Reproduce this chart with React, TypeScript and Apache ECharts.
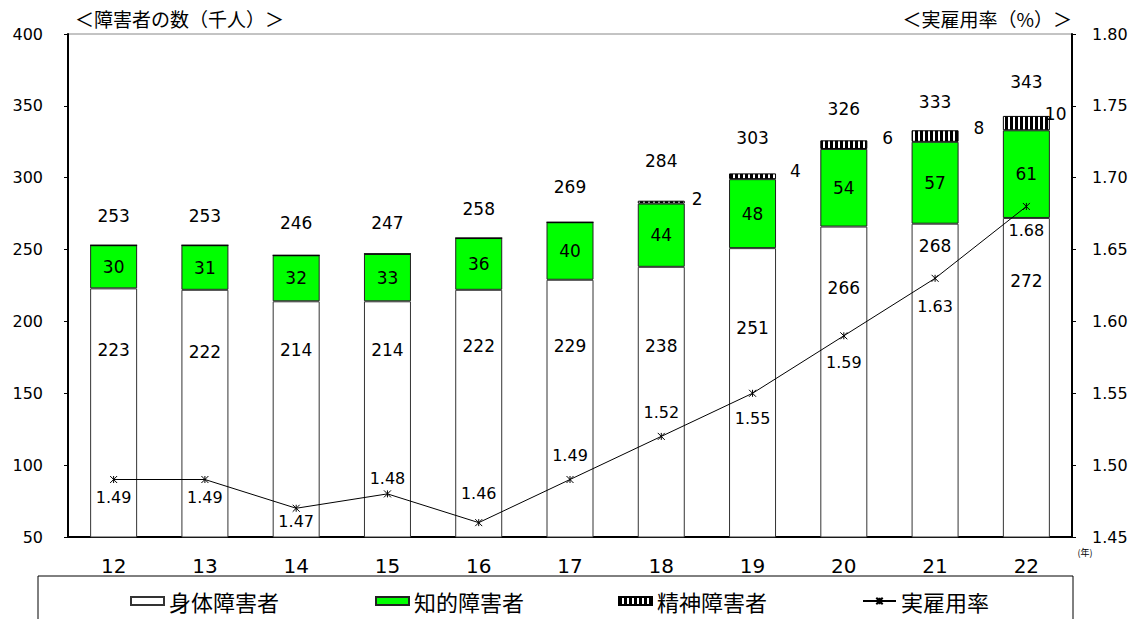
import React, { useEffect, useRef } from "react";
import * as echarts from "echarts";

const years = ["12", "13", "14", "15", "16", "17", "18", "19", "20", "21", "22"];
const physical = [223, 222, 214, 214, 222, 229, 238, 251, 266, 268, 272];
const intellectual = [30, 31, 32, 33, 36, 40, 44, 48, 54, 57, 61];
const mental = [0, 0, 0, 0, 0, 0, 2, 4, 6, 8, 10];
const totals = [253, 253, 246, 247, 258, 269, 284, 303, 326, 333, 343];
const rates = [1.49, 1.49, 1.47, 1.48, 1.46, 1.49, 1.52, 1.55, 1.59, 1.63, 1.68];

// label placement tweaks (pixels), not data
const physicalLabelDy = [62, 62, 49, 49, 56, 66, 79, 80, 61, 22, 63];
const totalLabelDy = [-29, -29, -32, -31, -29, -35, -40, -35, -31, -28, -34];
const rateLabelDy = [18, 18, 13, -15, -29, -24, -24, 25, 27, 28, 24];
const mentalLabelDx = [0, 0, 0, 0, 0, 0, 7, 14, 15, 15, -5];

const NUM_FONT = "DejaVu Sans";
const JP_FONT = "'Noto Sans CJK JP', 'Noto Sans', sans-serif";

function makeStripe(): HTMLCanvasElement {
  const c = document.createElement("canvas");
  c.width = 5;
  c.height = 10;
  const ctx = c.getContext("2d")!;
  ctx.fillStyle = "#ffffff";
  ctx.fillRect(0, 0, 5, 10);
  ctx.fillStyle = "#000000";
  ctx.fillRect(0, 0, 3, 10);
  return c;
}

export default function App() {
  const ref = useRef<HTMLDivElement>(null);
  useEffect(() => {
    document.body.style.margin = "0";
    const chart = echarts.init(ref.current!, undefined, { renderer: "svg" });
    const stripe = { image: makeStripe(), repeat: "repeat" } as any;
    const labelBase = {
      fontFamily: NUM_FONT,
      fontSize: 17,
      color: "#000",
      textBorderWidth: 0,
      textBorderColor: "transparent",
    };

    const option: any = {
      animation: false,
      backgroundColor: "#fff",
      grid: {
        left: 68,
        right: 65,
        top: 34,
        bottom: 82,
        show: true,
        borderColor: "#888",
        borderWidth: 1,
      },
      xAxis: {
        type: "category",
        data: years,
        axisLine: { lineStyle: { color: "#000", width: 2 } },
        axisTick: { inside: true, length: 5, alignWithLabel: false, lineStyle: { color: "#000" } },
        axisLabel: { margin: 19, fontSize: 20, fontFamily: NUM_FONT, color: "#000" },
      },
      yAxis: [
        {
          type: "value",
          min: 50,
          max: 400,
          interval: 50,
          splitLine: { show: false },
          axisLine: { show: true, lineStyle: { color: "#000", width: 2 } },
          axisTick: { show: true, length: 4, lineStyle: { color: "#000" } },
          axisLabel: { margin: 25, fontSize: 16, fontFamily: NUM_FONT, color: "#000" },
        },
        {
          type: "value",
          min: 1.45,
          max: 1.8,
          interval: 0.05,
          splitLine: { show: false },
          axisLine: { show: true, lineStyle: { color: "#000", width: 2 } },
          axisTick: { show: true, length: 4, lineStyle: { color: "#000" } },
          axisLabel: {
            margin: 20,
            fontSize: 16,
            fontFamily: NUM_FONT,
            color: "#000",
            formatter: (v: number) => v.toFixed(2),
          },
        },
      ],
      legend: [
        { name: "身体障害者", left: 130, icon: "rect" },
        { name: "知的障害者", left: 375, icon: "rect" },
        { name: "精神障害者", left: 618, icon: "rect" },
        { name: "実雇用率", left: 862, icon: undefined },
      ].map((l) => ({
        data: [l.name],
        left: l.left,
        top: 590,
        padding: 0,
        itemWidth: 33,
        itemHeight: 8,
        ...(l.icon ? { icon: l.icon } : {}),
        textStyle: { fontSize: 22, fontFamily: JP_FONT, color: "#000" },
      })),
      graphic: [
        {
          type: "rect",
          shape: { x: 38, y: 576, width: 1035, height: 60 },
          style: { fill: "none", stroke: "#000", lineWidth: 1 },
          silent: true,
        },
        {
          type: "text",
          x: 75,
          y: 18,
          style: {
            text: "＜障害者の数（千人）＞",
            font: `19px ${JP_FONT}`,
            fill: "#000",
            verticalAlign: "middle",
            textAlign: "left",
          },
        },
        {
          type: "text",
          x: 1072,
          y: 18,
          style: {
            text: "＜実雇用率（%）＞",
            font: `19px ${JP_FONT}`,
            fill: "#000",
            verticalAlign: "middle",
            textAlign: "right",
          },
        },
        {
          type: "text",
          x: 1085,
          y: 552,
          style: {
            text: "(年)",
            font: `9px ${JP_FONT}`,
            fill: "#000",
            verticalAlign: "middle",
            textAlign: "center",
          },
        },
      ],
      series: [
        {
          name: "身体障害者",
          type: "bar",
          stack: "a",
          barWidth: 47,
          itemStyle: { color: "#ffffff", borderColor: "#333", borderWidth: 1 },
          data: physical.map((v, i) => ({
            value: v,
            label: {
              show: true,
              position: ["50%", 0],
              align: "center",
              verticalAlign: "middle",
              offset: [0, physicalLabelDy[i]],
              ...labelBase,
            },
          })),
        },
        {
          name: "知的障害者",
          type: "bar",
          stack: "a",
          barWidth: 47,
          itemStyle: { color: "#00ff00", borderColor: "#222", borderWidth: 1 },
          label: { show: true, position: "inside", ...labelBase },
          data: intellectual,
        },
        {
          name: "精神障害者",
          type: "bar",
          stack: "a",
          barWidth: 47,
          itemStyle: { color: stripe, borderColor: "#000", borderWidth: 1 },
          data: mental.map((v, i) => ({
            value: v,
            label: {
              show: v > 0,
              position: ["100%", 0],
              align: "left",
              verticalAlign: "middle",
              offset: [mentalLabelDx[i], -2],
              ...labelBase,
            },
          })),
        },
        {
          name: "合計",
          type: "scatter",
          symbolSize: 2,
          itemStyle: { color: "#ffffff", opacity: 1 },
          silent: true,
          z: 1,
          data: totals.map((v, i) => ({
            value: v,
            label: {
              show: true,
              position: "top",
              distance: 0,
              align: "center",
              verticalAlign: "middle",
              offset: [0, totalLabelDy[i] + 1],
              ...labelBase,
            },
          })),
        },
        {
          name: "実雇用率",
          type: "line",
          yAxisIndex: 1,
          symbol: "path://M0 0L10 10M10 0L0 10M5 0L5 10",
          symbolSize: 7,
          itemStyle: { color: "#000", borderColor: "#000", borderWidth: 1 },
          lineStyle: { color: "#000", width: 1 },
          z: 5,
          data: rates.map((v, i) => ({
            value: v,
            label: {
              show: true,
              position: "inside",
              offset: [0, rateLabelDy[i]],
              formatter: (p: any) => Number(p.value).toFixed(2),
              ...labelBase,
              fontSize: 16,
            },
          })),
        },
      ],
    };
    chart.setOption(option);
    return () => chart.dispose();
  }, []);
  return <div ref={ref} style={{ width: 1137, height: 619 }} />;
}
